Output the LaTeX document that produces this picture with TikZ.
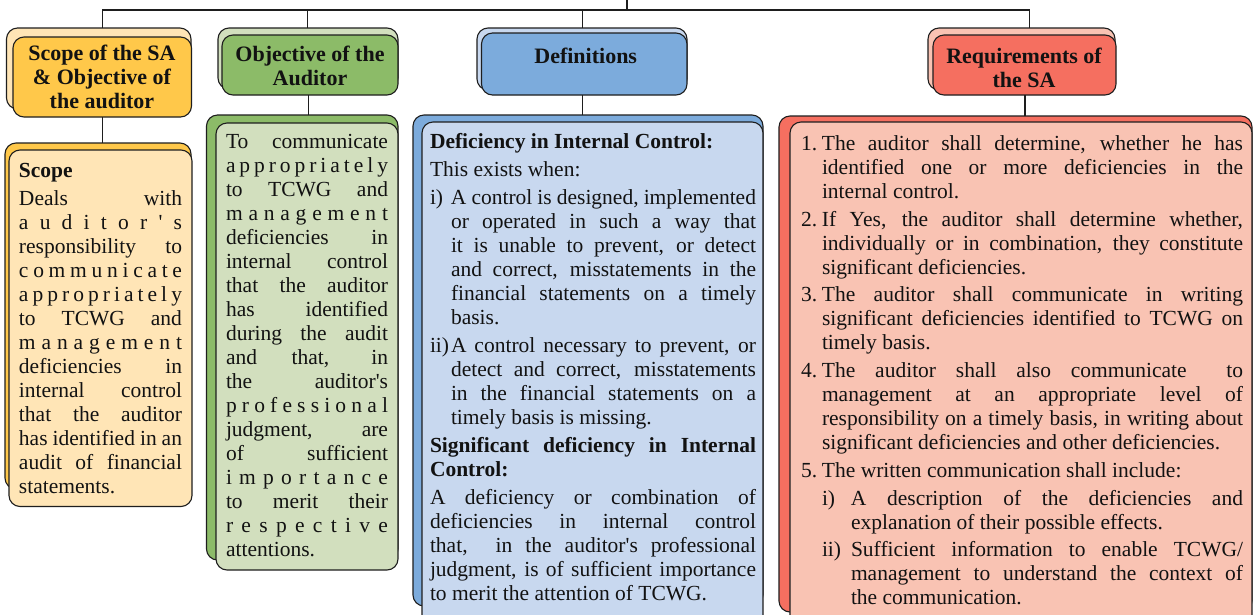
\documentclass[tikz,border=0pt]{standalone}
\usepackage{fontspec}
\setmainfont{Liberation Serif}
\definecolor{ink}{HTML}{1E1E1E}
\definecolor{tink}{HTML}{121212}
\definecolor{oD}{HTML}{FFC84A}\definecolor{oL}{HTML}{FFE5B6}
\definecolor{gD}{HTML}{8CBB68}\definecolor{gL}{HTML}{D2DFBE}
\definecolor{bD}{HTML}{7CABDC}\definecolor{bL}{HTML}{C8D8EF}
\definecolor{rD}{HTML}{F56F60}\definecolor{rL}{HTML}{F9C3B3}
\makeatletter
\newif\ifslf
\newcommand\spc{\spaceskip=.25em plus 1fil minus .09em\relax}
\newcommand\Blk[2]{\parbox[t]{#1}{\baselineskip=24pt\lineskiplimit=-100pt\relax #2}}
\newcommand\Jl[1]{\hbox to \linewidth{\spc #1}}
\newcommand\Nl[1]{\hbox to \linewidth{#1\hss}}
\newcommand\Cl[1]{\hbox to \linewidth{\hss #1\hss}}
\newcommand\Sl[1]{\hbox to \linewidth{\slftrue\@tfor\@c:=#1\do{\ifslf\slffalse\else\hfil\fi\@c}}}
\newcommand\Jt[3]{\hbox to \linewidth{\hbox to #1{#2\hss}\spc #3}}
\newcommand\Nt[3]{\hbox to \linewidth{\hbox to #1{#2\hss}#3\hss}}
\newcommand\Gp[1]{\vskip #1\relax}
\makeatother
\tikzset{
  panel/.style={draw=ink,line width=1.1pt,rounded corners=11pt,outer sep=0pt,inner sep=0pt,
    anchor=north west,rectangle},
  wire/.style={draw=ink,line width=1.1pt},
  bodytext/.style={anchor=base west,inner sep=0pt,outer sep=0pt,text=tink,
    font=\fontsize{21.5}{24}\selectfont},
  headtext/.style={anchor=base,inner sep=0pt,outer sep=0pt,text=tink,
    font=\fontsize{22}{24}\selectfont\bfseries}
}
\newcommand\Panel[6]{\node[panel,fill=#2,minimum width=#5pt - #3pt,minimum height=#6pt - #4pt] (#1) at (#3,#4) {};}
\begin{document}
\begin{tikzpicture}[x=1pt,y=-1pt]
\useasboundingbox (0,0) rectangle (1253,614);
\clip (0,0) rectangle (1253,614);
\fill[white] (0,0) rectangle (1253,614);
% headers
\Panel{hAb}{oL}{6.5}{28}{191}{109}
\Panel{hAf}{oD}{13}{37}{191.5}{117}
\Panel{hBb}{gL}{218}{28}{398}{89}
\Panel{hBf}{gD}{222}{35}{398}{95}
\Panel{hCb}{bL}{477}{28}{687}{90}
\Panel{hCf}{bD}{481.5}{33}{687}{95}
\Panel{hDb}{rL}{928}{28}{1115}{90}
\Panel{hDf}{rD}{933}{35}{1116}{95}
% bodies
\Panel{bAb}{oD}{5}{143}{191}{489}
\Panel{bAf}{oL}{9}{150}{192}{506.5}
\Panel{bBb}{gD}{206.5}{115}{398}{560}
\Panel{bBf}{gL}{216}{123}{398}{570}
\Panel{bCb}{bD}{413}{115}{763}{606}
\Panel{bCf}{bL}{422}{122}{763}{630}
\Panel{bDb}{rD}{779}{116}{1252}{612}
\Panel{bDf}{rL}{790}{122}{1252}{630}
% connectors
\coordinate (root) at (627,0);
\coordinate (bus) at (627,10);
\coordinate (cA) at (102.5,0);
\coordinate (cB) at (307.5,0);
\coordinate (cC) at (582.5,0);
\coordinate (cD) at (1029.7,0);
\coordinate (dB) at (308.5,0);
\coordinate (dD) at (1025,0);
\draw[wire] (root) -- (bus);
\draw[wire] (cA |- hAb.north) -- (cA |- bus) -- (cD |- bus) -- (cD |- hDb.north);
\draw[wire] (cB |- bus) -- (cB |- hBb.north);
\draw[wire] (cC |- bus) -- (cC |- hCb.north);
\draw[wire] (cA |- hAf.south) -- (cA |- bAb.north);
\draw[wire] (dB |- hBf.south) -- (dB |- bBb.north);
\draw[wire] (cC |- hCf.south) -- (cC |- bCb.north);
\draw[wire] (dD |- hDf.south) -- (dD |- bDb.north);
% header texts
\node[headtext] (tA) at (102,60) {\Blk{175pt}{\Cl{Scope of the SA}\Cl{\& Objective of}\Cl{the auditor}}};
\node[headtext] (tB) at (310,61) {\Blk{175pt}{\Cl{Objective of the}\Cl{Auditor}}};
\node[headtext] (tC) at (585.7,63) {\Blk{175pt}{\Cl{Definitions}}};
\node[headtext] (tD) at (1024,63) {\Blk{175pt}{\Cl{Requirements of}\Cl{the SA}}};
% body A
\node[bodytext] (xA) at (19,177) {\Blk{163pt}{%
\Nl{\bfseries Scope}\Gp{4pt}
\Jl{Deals with}
\Sl{auditor\textquotesingle s}
\Jl{responsibility to}
\Sl{communicate}
\Sl{appropriately}
\Jl{to TCWG and}
\Sl{management}
\Jl{deficiencies in}
\Jl{internal control}
\Jl{that the auditor}
\Jl{has identified in an}
\Jl{audit of financial}
\Nl{statements.}}};
% body B
\node[bodytext] (xB) at (226,148.5) {\Blk{162pt}{%
\Jl{To communicate}
\Sl{appropriately}
\Jl{to TCWG and}
\Sl{management}
\Jl{deficiencies in}
\Jl{internal control}
\Jl{that the auditor}
\Jl{has identified}
\Jl{during the audit}
\Jl{and that, in}
\Jl{the auditor\textquotesingle s}
\Sl{professional}
\Jl{judgment, are}
\Jl{of sufficient}
\Sl{importance}
\Jl{to merit their}
\Sl{respective}
\Nl{attentions.}}};
% body C
\node[bodytext] (xC) at (430,148) {\Blk{326pt}{%
\Nl{\bfseries Deficiency in Internal Control:}\Gp{4pt}
\Nl{This exists when:}\Gp{4pt}
\Jt{21pt}{i)}{A control is designed, implemented}
\Jt{21pt}{}{or operated in such a way that}
\Jt{21pt}{}{it is unable to prevent, or detect}
\Jt{21pt}{}{and correct, misstatements in the}
\Jt{21pt}{}{financial statements on a timely}
\Nt{21pt}{}{basis.}\Gp{4pt}
\Jt{21pt}{ii)}{A control necessary to prevent, or}
\Jt{21pt}{}{detect and correct, misstatements}
\Jt{21pt}{}{in the financial statements on a}
\Nt{21pt}{}{timely basis is missing.}\Gp{4pt}
\Jl{\bfseries Significant deficiency in Internal}
\Nl{\bfseries Control:}\Gp{4pt}
\Jl{A deficiency or combination of}
\Jl{deficiencies in internal control}
\Jl{that, \ in the auditor\textquotesingle s professional}
\Jl{judgment, is of sufficient importance}
\Nl{to merit the attention of TCWG.}}};
% body D
\node[bodytext] (xD) at (801,150.5) {\Blk{442pt}{%
\Jt{21pt}{1.}{The auditor shall determine, whether he has}
\Jt{21pt}{}{identified one or more deficiencies in the}
\Nt{21pt}{}{internal control.}\Gp{4pt}
\Jt{21pt}{2.}{If Yes, the auditor shall determine whether,}
\Jt{21pt}{}{individually or in combination, they constitute}
\Nt{21pt}{}{significant deficiencies.}\Gp{3pt}
\Jt{21pt}{3.}{The auditor shall communicate in writing}
\Jt{21pt}{}{significant deficiencies identified to TCWG on}
\Nt{21pt}{}{timely basis.}\Gp{4pt}
\Jt{21pt}{4.}{The auditor shall also communicate \ to}
\Jt{21pt}{}{management at an appropriate level of}
\Jt{21pt}{}{responsibility on a timely basis, in writing about}
\Nt{21pt}{}{significant deficiencies and other deficiencies.}\Gp{4pt}
\Nt{21pt}{5.}{The written communication shall include:}\Gp{4pt}
\Jt{50pt}{\hskip21pt i)}{A description of the deficiencies and}
\Nt{50pt}{}{explanation of their possible effects.}\Gp{3pt}
\Jt{50pt}{\hskip21pt ii)}{Sufficient information to enable TCWG/}
\Jt{50pt}{}{management to understand the context of}
\Nt{50pt}{}{the communication.}}};
\end{tikzpicture}
\end{document}
